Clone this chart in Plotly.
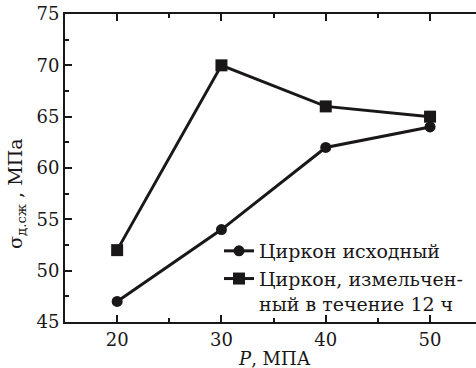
import plotly.graph_objects as go

pressure = [20, 30, 40, 50]
zircon_initial = [47, 54, 62, 64]
zircon_milled = [52, 70, 66, 65]
name_initial = "Циркон исходный"
name_milled = "Циркон, измельчен-<br>ный в течение 12 ч"
x_title = "<i>P</i>, МПА"
y_title = "σ<sub>д.сж</sub> , МПа"

FONT = "DejaVu Serif"
INK = "#1a1718"
W, H = 476, 368
L, R, T, B = 65, 0, 14, 46

fig = go.Figure()
fig.add_trace(go.Scatter(x=pressure, y=zircon_initial, mode="lines+markers", name=name_initial,
                         line=dict(color=INK, width=3),
                         marker=dict(symbol="circle", size=11, color=INK)))
fig.add_trace(go.Scatter(x=pressure, y=zircon_milled, mode="lines+markers", name=name_milled,
                         line=dict(color=INK, width=3),
                         marker=dict(symbol="square", size=12, color=INK)))

axis_common = dict(showgrid=False, zeroline=False, showline=True, linecolor=INK, linewidth=2,
                   ticks="inside", ticklen=7, tickwidth=1.5, tickcolor=INK, automargin=False,
                   tickfont=dict(family=FONT, size=18, color=INK))
fig.update_xaxes(range=[15, 15 + (W - L - R) / 10.43], tickvals=[20, 30, 40, 50], mirror="allticks",
                 minor=dict(tickvals=[25, 35, 45], ticks="inside", ticklen=4, tickwidth=1.5, tickcolor=INK),
                 **axis_common)
fig.update_yaxes(range=[45, 75], dtick=5, tick0=45,
                 minor=dict(dtick=2.5, ticks="inside", ticklen=4, tickwidth=1.5, tickcolor=INK),
                 **axis_common)

pw = W - L - R
ph = H - T - B
fig.add_annotation(text=x_title, xref="paper", yref="paper", x=(274 - L) / pw, y=-(358 - (H - B)) / ph,
                   xanchor="center", yanchor="middle", showarrow=False,
                   font=dict(family=FONT, size=18, color=INK))
fig.add_annotation(text=y_title, xref="paper", yref="paper", x=(16 - L) / pw, y=((H - B) - 194) / ph,
                   xanchor="center", yanchor="middle", showarrow=False, textangle=-90,
                   font=dict(family=FONT, size=19, color=INK))

fig.update_layout(template="none", width=W, height=H, margin=dict(l=L, r=R, t=T, b=B, autoexpand=False),
                  plot_bgcolor="white", paper_bgcolor="white",
                  font=dict(family=FONT, size=18, color=INK),
                  legend=dict(x=(219 - L) / pw, y=((H - B) - 232) / ph, xanchor="left", yanchor="top",
                              bgcolor="rgba(0,0,0,0)", valign="top", tracegroupgap=0,
                              font=dict(family=FONT, size=19, color=INK)))

fig.write_html("out.html", config={"displayModeBar": False},
               post_script="document.body.style.margin='0';document.body.style.overflow='hidden';")
